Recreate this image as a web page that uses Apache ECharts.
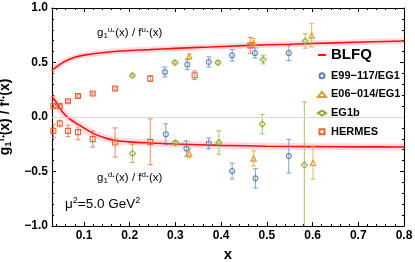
<!DOCTYPE html>
<html><head><meta charset="utf-8">
<script src="https://cdn.jsdelivr.net/npm/echarts@6/dist/echarts.min.js"></script>
<style>html,body{margin:0;padding:0;background:#fff}#c{width:415px;height:262px}</style>
</head><body><div id="c"></div>
<script>
// ---- tick labels ----
const xTicks = [0.1, 0.2, 0.3, 0.4, 0.5, 0.6, 0.7, 0.8];
const xMinorTicks = [0.04, 0.06, 0.08, 0.12, 0.14, 0.16, 0.18, 0.22, 0.24, 0.26, 0.28, 0.32, 0.34, 0.36, 0.38,
  0.42, 0.44, 0.46, 0.48, 0.52, 0.54, 0.56, 0.58, 0.62, 0.64, 0.66, 0.68, 0.72, 0.74, 0.76, 0.78];

// ---- BLFQ curves ----
const blfqUx = [0.03, 0.035, 0.04, 0.05, 0.063, 0.08, 0.107, 0.14, 0.172, 0.2, 0.244, 0.3, 0.375, 0.462, 0.55, 0.65, 0.8];
const blfqUy = [0.425, 0.445, 0.46, 0.49, 0.52, 0.548, 0.572, 0.59, 0.603, 0.61, 0.618, 0.63, 0.642, 0.657, 0.668, 0.68, 0.697];
const blfqDx = [0.03, 0.035, 0.04, 0.045, 0.052, 0.065, 0.088, 0.12, 0.145, 0.169, 0.2, 0.245, 0.3, 0.4, 0.5, 0.6, 0.7, 0.8];
const blfqDy = [0.19, 0.16, 0.13, 0.095, 0.05, -0.005, -0.07, -0.15, -0.19, -0.215, -0.228, -0.238, -0.248, -0.26, -0.268, -0.272, -0.274, -0.275];

// ---- E99-117/EG1 ----
const e99Ux = [0.277, 0.326, 0.373, 0.424, 0.474, 0.548];
const e99Uy = [0.413, 0.481, 0.505, 0.566, 0.587, 0.587];
const e99Ue = [0.046, 0.046, 0.046, 0.053, 0.046, 0.07];
const e99Dx = [0.279, 0.324, 0.373, 0.424, 0.475, 0.548];
const e99Dy = [-0.158, -0.289, -0.243, -0.496, -0.563, -0.359];
const e99De = [0.096, 0.07, 0.05, 0.073, 0.088, 0.155];

// ---- E06-014/EG1 ----
const e06Ux = [0.330, 0.471, 0.598];
const e06Uy = [0.557, 0.679, 0.749];
const e06Ue = [0.02, 0.04, 0.107];
const e06Dx = [0.330, 0.471, 0.601];
const e06Dy = [-0.334, -0.380, -0.42];
const e06De = [0.04, 0.07, 0.15];

// ---- EG1b ----
const eg1bUx = [0.206, 0.299, 0.393, 0.492, 0.584];
const eg1bUy = [0.38, 0.499, 0.499, 0.527, 0.697];
const eg1bUe = [0.012, 0.012, 0.015, 0.04, 0.066];
const eg1bDx = [0.206, 0.300, 0.395, 0.490, 0.582];
const eg1bDy = [-0.334, -0.237, -0.234, -0.066, -0.441];
const eg1bDe = [0.083, 0.02, 0.107, 0.09, 0.58];

// ---- HERMES ----
const hermUx = [0.033, 0.047, 0.065, 0.087, 0.119, 0.168, 0.245, 0.342, 0.464];
const hermUy = [0.10, 0.10, 0.145, 0.193, 0.215, 0.261, 0.352, 0.383, 0.657];
const hermUe = [0.015, 0.015, 0.012, 0.012, 0.012, 0.015, 0.025, 0.04, 0.073];
const hermDx = [0.033, 0.047, 0.065, 0.087, 0.119, 0.168, 0.245];
const hermDy = [-0.127, -0.06, -0.127, -0.139, -0.203, -0.234, -0.228];
const hermDe = [0.06, 0.03, 0.053, 0.07, 0.073, 0.134, 0.21];

const FONT = 'Liberation Sans';
const C_BLUE = '#5E81B5', C_ORANGE = '#E19C24', C_GREEN = '#8FB032', C_RED = '#EB6235';

function zip2(xs, ys) { return xs.map((x, i) => [x, ys[i]]); }
function zip3(xs, ys, es) { return xs.map((x, i) => [x, ys[i], es[i]]); }

function errSeries(name, color, data) {
  return {
    type: 'custom', name: name, clip: true, z: 3, silent: true,
    data: data,
    renderItem: function (params, api) {
      const x = api.value(0), y = api.value(1), e = api.value(2);
      const t = api.coord([x, y + e]), b = api.coord([x, y - e]);
      const cw = 2.5;
      const st = { stroke: color, lineWidth: 1, opacity: 0.75 };
      return { type: 'group', children: [
        { type: 'line', shape: { x1: t[0], y1: t[1], x2: b[0], y2: b[1] }, style: st },
        { type: 'line', shape: { x1: t[0] - cw, y1: t[1], x2: t[0] + cw, y2: t[1] }, style: st },
        { type: 'line', shape: { x1: b[0] - cw, y1: b[1], x2: b[0] + cw, y2: b[1] }, style: st }
      ] };
    }
  };
}
function ptSeries(name, color, symbol, size, data) {
  return {
    type: 'scatter', name: name, symbol: symbol, symbolSize: size, z: 4,
    itemStyle: { color: 'rgba(255,255,255,0)', borderColor: color, borderWidth: 1.1, opacity: 1 },
    data: data
  };
}

const chart = echarts.init(document.getElementById('c'), null, { renderer: 'canvas' });

const annRich = {
  m: { fontSize: 11.5, lineHeight: 14, fontFamily: FONT, color: '#333' },
  sb: { fontSize: 8, lineHeight: 7, verticalAlign: 'bottom', fontFamily: FONT, color: '#333' },
  sp: { fontSize: 8, lineHeight: 7, verticalAlign: 'top', fontFamily: FONT, color: '#333' }
};

const option = {
  animation: false,
  backgroundColor: '#fff',
  grid: { left: 52, right: 11, top: 8, bottom: 36, containLabel: false, outerBoundsMode: 'none' },
  legend: {
    orient: 'vertical', left: 317, top: 47, padding: 0, itemGap: 6.7,
    itemWidth: 8, itemHeight: 5,
    textStyle: { fontFamily: FONT, fontWeight: 'bold', fontSize: 11, color: '#000', lineHeight: 12 },
    data: [
      { name: 'BLFQ', itemStyle: { opacity: 0 }, lineStyle: { width: 2, color: '#ff1010' }, textStyle: { fontSize: 15, lineHeight: 16 } },
      { name: 'E99\u2212117/EG1', icon: 'circle' },
      { name: 'E06\u2212014/EG1', icon: 'triangle' },
      { name: 'EG1b', icon: 'diamond' },
      { name: 'HERMES', icon: 'path://M0,0L10,0L10,10L0,10Z' }
    ]
  },
  xAxis: [
    {
      type: 'value', min: 0.03, max: 0.8, position: 'bottom',
      name: 'x', nameLocation: 'middle', nameGap: 16,
      nameTextStyle: { fontFamily: FONT, fontWeight: 'bold', fontSize: 15, color: '#000' },
      axisLine: { show: true, onZero: false, lineStyle: { color: '#000', width: 1.1 } },
      axisTick: { show: true, inside: true, length: 4, customValues: xTicks, lineStyle: { color: '#000' } },
      axisLabel: { show: true, customValues: xTicks, margin: 4, fontFamily: FONT, fontWeight: 'bold', fontSize: 12, color: '#000',
        formatter: v => v.toFixed(1) },
      splitLine: { show: false }
    },
    {
      type: 'value', min: 0.03, max: 0.8, position: 'bottom',
      axisLine: { show: false, onZero: false },
      axisTick: { show: true, inside: true, length: 2, customValues: xMinorTicks, lineStyle: { color: '#000' } },
      axisLabel: { show: false }, splitLine: { show: false }
    },
    {
      type: 'value', min: 0.03, max: 0.8, position: 'top',
      axisLine: { show: true, onZero: false, lineStyle: { color: '#000', width: 1.1 } },
      axisTick: { show: true, inside: true, length: 4, customValues: xTicks, lineStyle: { color: '#000' } },
      axisLabel: { show: false }, splitLine: { show: false }
    },
    {
      type: 'value', min: 0.03, max: 0.8, position: 'top',
      axisLine: { show: false, onZero: false },
      axisTick: { show: true, inside: true, length: 2, customValues: xMinorTicks, lineStyle: { color: '#000' } },
      axisLabel: { show: false }, splitLine: { show: false }
    }
  ],
  yAxis: [
    {
      type: 'value', min: -1, max: 1, interval: 0.5, position: 'left',
      name: '{m|g}{sb|1}{sp|f\u208A}{m|(x) / f}{sp|f\u208A}{m|(x)}',
      nameLocation: 'middle', nameGap: 31, nameRotate: 90,
      nameTextStyle: { fontFamily: FONT, fontWeight: 'bold', fontSize: 14, color: '#000',
        rich: {
          m: { fontFamily: FONT, fontWeight: 'bold', fontSize: 14, lineHeight: 17, color: '#000' },
          sb: { fontFamily: FONT, fontWeight: 'bold', fontSize: 9.5, lineHeight: 9, verticalAlign: 'bottom', color: '#000' },
          sp: { fontFamily: FONT, fontWeight: 'bold', fontSize: 9.5, lineHeight: 9, verticalAlign: 'top', color: '#000' }
        } },
      axisLine: { show: true, onZero: false, lineStyle: { color: '#000', width: 1.1 } },
      axisTick: { show: true, inside: true, length: 4, lineStyle: { color: '#000' } },
      minorTick: { show: true, splitNumber: 5, length: 2, lineStyle: { color: '#000' } },
      axisLabel: { margin: 4, fontFamily: FONT, fontWeight: 'bold', fontSize: 12, color: '#000',
        formatter: v => (v < 0 ? '\u2212' : '') + Math.abs(v).toFixed(1) },
      splitLine: { show: false }
    },
    {
      type: 'value', min: -1, max: 1, interval: 0.5, position: 'right',
      axisLine: { show: true, onZero: false, lineStyle: { color: '#000', width: 1.1 } },
      axisTick: { show: true, inside: true, length: 4, lineStyle: { color: '#000' } },
      minorTick: { show: true, splitNumber: 5, length: 2, lineStyle: { color: '#000' } },
      axisLabel: { show: false }, splitLine: { show: false }
    }
  ],
  graphic: [
    { type: 'text', left: 97, top: 26, silent: true,
      style: { text: '{m|g}{sb|1}{sp|u\u208A}{m|(x) / f}{sp|u\u208A}{m|(x)}', rich: annRich } },
    { type: 'text', left: 97, top: 171, silent: true,
      style: { text: '{m|g}{sb|1}{sp|d\u208A}{m|(x) / f}{sp|d\u208A}{m|(x)}', rich: annRich } },
    { type: 'text', left: 65, top: 196, silent: true,
      style: { text: '{m|\u03BC}{sp|2}{m|=5.0 GeV}{sp|2}',
        rich: {
          m: { fontSize: 13.5, lineHeight: 17, fontFamily: FONT, color: '#111' },
          sp: { fontSize: 9, lineHeight: 9, verticalAlign: 'top', fontFamily: FONT, color: '#111' }
        } } }
  ],
  series: [
    { type: 'line', name: 'band', data: zip2(blfqUx, blfqUy), smooth: 0.3, symbol: 'none', z: 1, silent: true,
      lineStyle: { color: 'rgba(255,90,120,0.22)', width: 6 },
      markLine: { silent: true, symbol: 'none', label: { show: false }, animation: false,
        lineStyle: { color: '#d8d8d8', width: 1, type: 'solid' }, data: [{ yAxis: 0 }] } },
    { type: 'line', name: 'band', data: zip2(blfqDx, blfqDy), smooth: 0.3, symbol: 'none', z: 1, silent: true,
      lineStyle: { color: 'rgba(255,90,120,0.22)', width: 7 } },
    { type: 'line', name: 'BLFQ', data: zip2(blfqUx, blfqUy), smooth: 0.3, symbol: 'none', showSymbol: false, z: 2,
      itemStyle: { color: '#ff1010' }, lineStyle: { color: '#ff1010', width: 1.6 } },
    { type: 'line', name: 'BLFQ', data: zip2(blfqDx, blfqDy), smooth: 0.3, symbol: 'none', showSymbol: false, z: 2,
      itemStyle: { color: '#ff1010' }, lineStyle: { color: '#ff1010', width: 1.6 } },

    errSeries('e99err', C_BLUE, zip3(e99Ux, e99Uy, e99Ue).concat(zip3(e99Dx, e99Dy, e99De))),
    errSeries('e06err', C_ORANGE, zip3(e06Ux, e06Uy, e06Ue).concat(zip3(e06Dx, e06Dy, e06De))),
    errSeries('eg1berr', C_GREEN, zip3(eg1bUx, eg1bUy, eg1bUe).concat(zip3(eg1bDx, eg1bDy, eg1bDe))),
    errSeries('hermerr', C_RED, zip3(hermUx, hermUy, hermUe).concat(zip3(hermDx, hermDy, hermDe))),

    ptSeries('E99\u2212117/EG1', C_BLUE, 'circle', 5, zip2(e99Ux, e99Uy).concat(zip2(e99Dx, e99Dy))),
    ptSeries('E06\u2212014/EG1', C_ORANGE, 'triangle', 5.5, zip2(e06Ux, e06Uy).concat(zip2(e06Dx, e06Dy))),
    ptSeries('EG1b', C_GREEN, 'diamond', 6, zip2(eg1bUx, eg1bUy).concat(zip2(eg1bDx, eg1bDy))),
    ptSeries('HERMES', C_RED, 'rect', 5, zip2(hermUx, hermUy).concat(zip2(hermDx, hermDy)))
  ]
};
chart.setOption(option);
</script>
</body></html>
